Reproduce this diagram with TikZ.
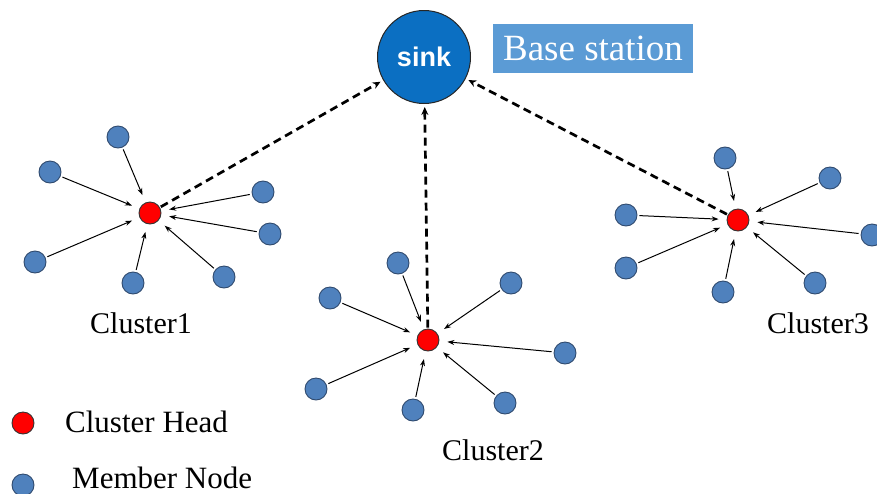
\documentclass[tikz,border=0pt]{standalone}
\usepackage{fontspec}
\setmainfont{Liberation Serif}
\newfontfamily\arialbold{Liberation Sans Bold}
\usetikzlibrary{arrows.meta}
\definecolor{memfill}{HTML}{4F81BD}
\definecolor{memdraw}{HTML}{2F4A6E}
\definecolor{sinkfill}{HTML}{0B6FC2}
\definecolor{boxfill}{HTML}{5B9BD5}
\tikzset{
  member/.style={circle,fill=memfill,draw=memdraw,line width=0.9pt,minimum size=22pt,inner sep=0pt},
  head/.style={circle,fill=red,draw=black!80,line width=0.9pt,minimum size=22pt,inner sep=0pt},
  arr/.style={-{Stealth[length=7pt,width=5pt]},line width=1pt,shorten <=2pt,shorten >=8pt},
  darr/.style={-{Stealth[length=8pt,width=7pt]},line width=2.7pt,dash pattern=on 8pt off 5pt,shorten <=1pt,shorten >=3pt},
  lbl/.style={font=\fontsize{30}{32}\selectfont,anchor=base,inner sep=0pt}
}
\begin{document}
\begin{tikzpicture}[x=1pt,y=-1pt]
\useasboundingbox (0,0) rectangle (877,493);
% sink and base station
\node[circle,fill=sinkfill,draw=black!85,line width=1pt,minimum size=93pt,inner sep=0pt,text=white,font=\arialbold\fontsize{27}{29}\selectfont] (sink) at (424,57) {sink};
\node[fill=boxfill,text=white,minimum width=200pt,minimum height=49pt,inner sep=0pt,font=\fontsize{37}{40}\selectfont] (bs) at (593,48.5) {Base station};
% cluster 1
\node[head] (h1) at (150,213) {};
\node[member] (a1) at (118,137) {};
\node[member] (a2) at (50,172) {};
\node[member] (a3) at (263,192) {};
\node[member] (a4) at (270,234) {};
\node[member] (a5) at (35,262) {};
\node[member] (a6) at (133,283) {};
\node[member] (a7) at (224,277) {};
\foreach \m in {a1,a2,a3,a4,a5,a6,a7} \draw[arr] (\m) -- (h1);
\node[lbl] (c1) at (141,333) {Cluster1};
% cluster 2
\node[head] (h2) at (428,340) {};
\node[member] (b1) at (398,263) {};
\node[member] (b2) at (330,298) {};
\node[member] (b3) at (511,283) {};
\node[member] (b4) at (565,353) {};
\node[member] (b5) at (316,389) {};
\node[member] (b6) at (413,410) {};
\node[member] (b7) at (505,403) {};
\foreach \m in {b1,b2,b3,b4,b5,b6,b7} \draw[arr] (\m) -- (h2);
\node[lbl] (c2) at (493,460) {Cluster2};
% cluster 3
\node[head] (h3) at (738,220) {};
\node[member] (d1) at (725,158) {};
\node[member] (d2) at (830,178) {};
\node[member] (d3) at (626,215) {};
\node[member] (d4) at (872,235) {};
\node[member] (d5) at (626,268) {};
\node[member] (d6) at (723,292) {};
\node[member] (d7) at (815,283) {};
\foreach \m in {d1,d2,d3,d4,d5,d6,d7} \draw[arr] (\m) -- (h3);
\node[lbl] (c3) at (818,333) {Cluster3};
% dashed links to sink
\draw[darr] (h1) -- (sink);
\draw[darr] (h2) -- (sink);
\draw[darr] (h3) -- (sink);
% legend
\node[head] (lh) at (23,423) {};
\node[member] (lm) at (23,485) {};
\node[lbl,anchor=base west] (lht) at (65,432) {\fontsize{31}{33}\selectfont Cluster Head};
\node[lbl,anchor=base west] (lmt) at (72,488) {\fontsize{31}{33}\selectfont Member Node};
\end{tikzpicture}
\end{document}
